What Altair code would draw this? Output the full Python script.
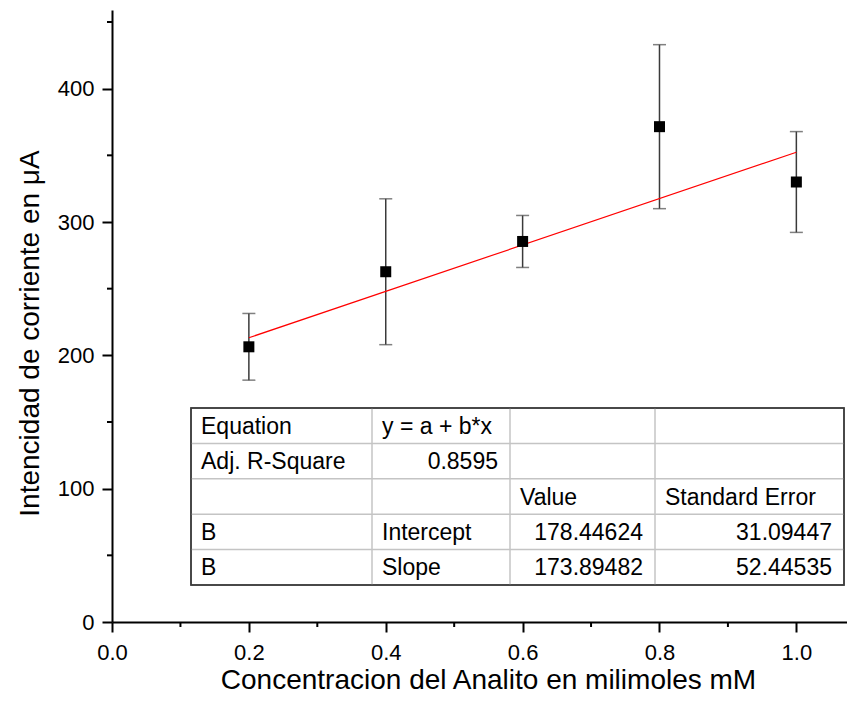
import altair as alt
import pandas as pd

# ---- data ----
conc = [0.2, 0.4, 0.6, 0.8, 1.0]
current = [206.4, 262.7, 285.4, 371.5, 330.0]
err = [25.0, 54.7, 19.5, 61.5, 37.8]
fit_x = [0.2, 1.0]
fit_y = [213.2, 352.3]
x_major = [0.0, 0.2, 0.4, 0.6, 0.8, 1.0]
x_minor = [0.1, 0.3, 0.5, 0.7, 0.9]
y_major = [0, 100, 200, 300, 400]
y_minor = [50, 150, 250, 350, 450]

table_rows = [
    ["Equation", "y = a + b*x", "", ""],
    ["Adj. R-Square", "0.8595", "", ""],
    ["", "", "Value", "Standard Error"],
    ["B", "Intercept", "178.44624", "31.09447"],
    ["B", "Slope", "173.89482", "52.44535"],
]
right_aligned = {(1, 1), (3, 2), (3, 3), (4, 2), (4, 3)}

# ---- layout (pixels inside the plot area) ----
W, H = 735, 612
col_edges = [79, 260, 398, 543, 732]
row_edges = [398, 433.4, 468.8, 504.2, 539.6, 575]
FONT = "Liberation Sans"

df = pd.DataFrame({"conc": conc, "cur": current, "err": err})
df["lo"] = df["cur"] - df["err"]
df["hi"] = df["cur"] + df["err"]
fit_df = pd.DataFrame({"conc": fit_x, "cur": fit_y})

xs = alt.Scale(domain=[0, 1.074], nice=False, zero=False)
ys = alt.Scale(domain=[0, 459], nice=False, zero=False)
X_AX = alt.Axis(values=x_major, format=".1f", title="Concentracion del Analito en milimoles mM",
                labelPadding=10, labelFlush=False, labelOverlap=False,
                titleX=376, titleY=66, titleBaseline="alphabetic")
Y_AX = alt.Axis(values=y_major, format="d", title="Intencidad de corriente en μA",
                labelPadding=8, labelFlush=False, labelOverlap=False,
                titleX=-74, titleY=323, titleBaseline="alphabetic",
                titleAngle=-90, titleAlign="center")

def X(f):
    return alt.X(f, scale=xs, axis=X_AX)

def Y(f):
    return alt.Y(f, scale=ys, axis=Y_AX)

base = alt.Chart(df)
bars = base.mark_rule(color="#3a3a3a", strokeWidth=1.5).encode(x=X("conc:Q"), y=Y("lo:Q"), y2="hi:Q")
cap_hi = base.mark_tick(orient="horizontal", size=13, thickness=1.5, color="#4a4a4a").encode(x=X("conc:Q"), y=Y("hi:Q"))
cap_lo = base.mark_tick(orient="horizontal", size=13, thickness=1.5, color="#4a4a4a").encode(x=X("conc:Q"), y=Y("lo:Q"))
fit = alt.Chart(fit_df).mark_line(color="#ff0000", strokeWidth=1.2).encode(x=X("conc:Q"), y=Y("cur:Q"))
pts = base.mark_square(size=121, color="black", filled=True, opacity=1).encode(x=X("conc:Q"), y=Y("cur:Q"))

xminor = alt.Chart(pd.DataFrame({"conc": x_minor})).mark_rule(color="black", strokeWidth=2).encode(
    x=X("conc:Q"), y=alt.value(H), y2=alt.value(H + 5))
yminor = alt.Chart(pd.DataFrame({"cur": y_minor})).mark_rule(color="black", strokeWidth=2).encode(
    y=Y("cur:Q"), x=alt.value(0), x2=alt.value(-5))

# ---- table ----
lines = []
for yv in row_edges[1:-1]:
    lines.append({"x1": col_edges[0], "x2": col_edges[-1], "y1": yv, "y2": yv})
for xv in col_edges[1:-1]:
    lines.append({"x1": xv, "x2": xv, "y1": row_edges[0], "y2": row_edges[-1]})
lines_df = pd.DataFrame(lines)

box = alt.Chart(pd.DataFrame({"x1": [col_edges[0]], "x2": [col_edges[-1]],
                              "y1": [row_edges[0]], "y2": [row_edges[-1]]})).mark_rect(
    fill="white", stroke="#3c3c3c", strokeWidth=1.5).encode(
    x=alt.X("x1:Q", scale=None, axis=None), x2="x2:Q",
    y=alt.Y("y1:Q", scale=None, axis=None), y2="y2:Q")
grid = alt.Chart(lines_df).mark_rule(color="#c4c4c4", strokeWidth=1.5).encode(
    x=alt.X("x1:Q", scale=None, axis=None), x2="x2:Q",
    y=alt.Y("y1:Q", scale=None, axis=None), y2="y2:Q")
box_border = box.mark_rect(fill=None, stroke="#3c3c3c", strokeWidth=1.5)

cells = []
for r, row in enumerate(table_rows):
    for c, txt in enumerate(row):
        if not txt:
            continue
        ra = (r, c) in right_aligned
        cells.append({
            "t": txt,
            "px": (col_edges[c + 1] - 12) if ra else (col_edges[c] + 10),
            "py": (row_edges[r] + row_edges[r + 1]) / 2 + 1,
            "ra": ra,
        })
cells_df = pd.DataFrame(cells)
txt_l = alt.Chart(cells_df[~cells_df.ra]).mark_text(align="left", baseline="middle", fontSize=23,
                                                    font=FONT, color="black").encode(
    x=alt.X("px:Q", scale=None, axis=None), y=alt.Y("py:Q", scale=None, axis=None), text="t:N")
txt_r = alt.Chart(cells_df[cells_df.ra]).mark_text(align="right", baseline="middle", fontSize=23,
                                                   font=FONT, color="black").encode(
    x=alt.X("px:Q", scale=None, axis=None), y=alt.Y("py:Q", scale=None, axis=None), text="t:N")

chart = alt.layer(
    xminor, yminor, bars, cap_hi, cap_lo, fit, pts, box, grid, box_border, txt_l, txt_r
).properties(
    width=W, height=H, autosize=alt.AutoSizeParams(type="none"),
    padding={"left": 104, "top": 2, "right": 0, "bottom": 73},
).configure_view(stroke=None).configure_axis(
    grid=False, domainColor="black", domainWidth=2, tickColor="black", tickWidth=2, tickSize=10,
    labelFont=FONT, labelFontSize=22, labelColor="black",
    titleFont=FONT, titleFontSize=28, titleFontWeight="normal", titleColor="black",
)

chart.save("out.html", embed_options={"renderer": "svg", "actions": False})
